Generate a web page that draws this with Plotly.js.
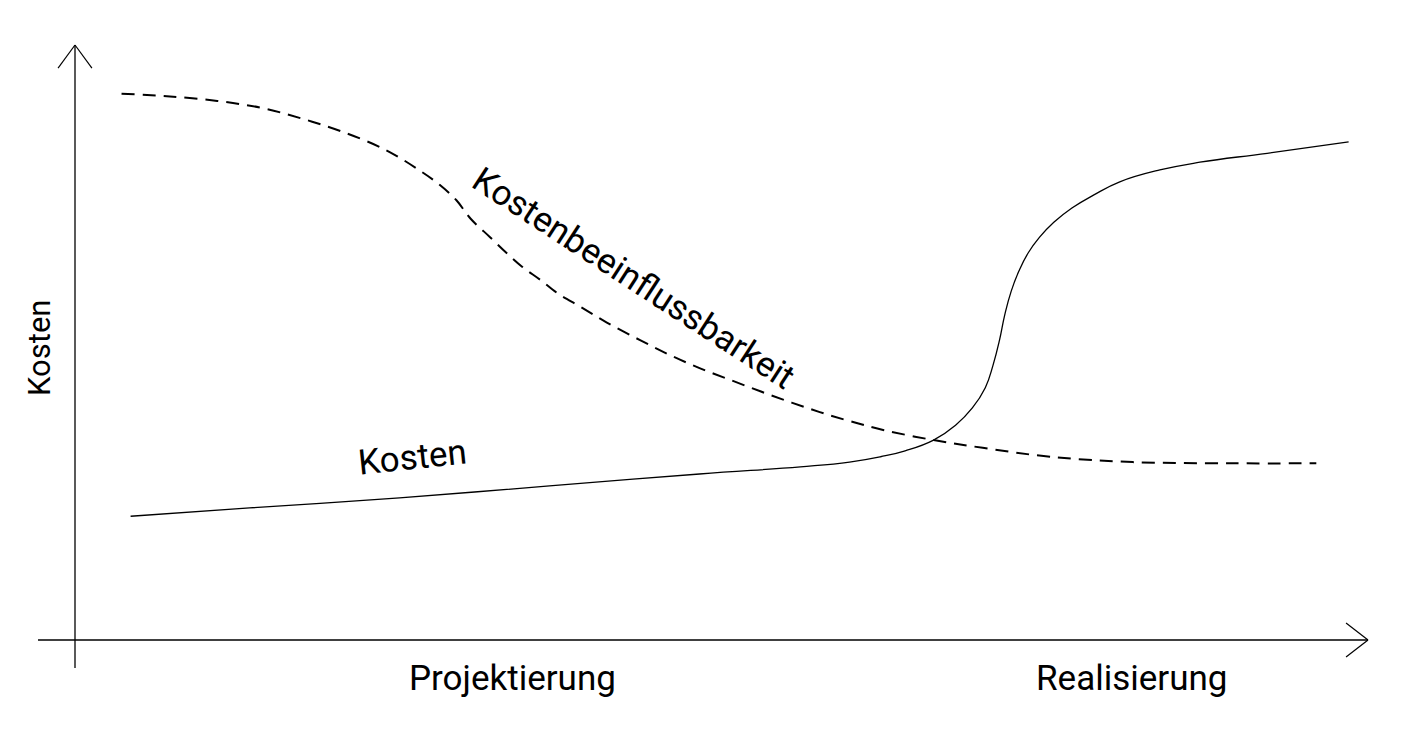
<!DOCTYPE html>
<html>
<head>
<meta charset="utf-8">
<script src="https://cdn.plot.ly/plotly-3.0.1.min.js"></script>
<style>html,body{margin:0;padding:0;background:#fff;}#chart{width:1401px;height:741px;}</style>
</head>
<body>
<div id="chart"></div>
<script>
// Phase axis (0..100) and cost axis (0..100)
const influenceX = [3.6,7.1,11.0,14.5,17.6,20.7,24.0,26.8,28.2,29.5,30.6,32.1,33.4,34.6,36.0,37.3,39.1,41.1,43.7,46.0,48.3,50.7,53.0,55.3,57.6,59.9,62.5,66.4,70.2,75.4,81.8,89.6,96.0];
const influenceY = [91.8,91.4,90.6,89.4,87.6,85.4,82.4,78.7,76.5,73.9,70.8,67.7,65.0,62.7,60.5,58.3,56.0,53.4,50.4,47.9,45.7,43.7,41.8,40.0,38.3,36.8,35.3,33.6,32.3,30.8,29.9,29.7,29.7];

const costX = [4.3,13.5,25.1,36.7,48.3,56.1,59.9,62.3,64.2,66.4,68.1,69.4,70.4,71.0,71.5,71.9,72.4,73.0,73.7,74.6,75.7,77.1,78.8,80.8,83.9,87.0,92.2,98.5];
const costY = [20.8,22.2,23.9,25.9,27.9,29.1,29.9,30.8,31.8,33.6,36.1,39.0,42.4,46.2,50.4,54.6,58.6,62.0,65.0,67.7,70.2,72.6,74.8,77.0,79.0,80.3,81.8,83.7];

const phaseLabels = ["Projektierung", "Realisierung"];
const phaseLabelX = [33.8, 81.7];
const yTitle = "Kosten";
const curveLabels = ["Kostenbeeinflussbarkeit", "Kosten"];

const FONT = "Roboto, 'Open Sans', sans-serif";

const traces = [
  {x: influenceX, y: influenceY, mode: "lines", type: "scatter",
   line: {color: "#000", width: 2, dash: "13px,8px", shape: "spline", smoothing: 1},
   hoverinfo: "skip", showlegend: false},
  {x: costX, y: costY, mode: "lines", type: "scatter",
   line: {color: "#000", width: 1.3, shape: "spline", smoothing: 1.3},
   hoverinfo: "skip", showlegend: false}
];

const ln = (x0, y0, x1, y1, w) => ({type: "line", xref: "x", yref: "y", x0, y0, x1, y1,
  line: {color: "#000", width: w}});

const shapes = [
  ln(-2.86, 0, 100, 0, 1.5),       // x axis
  ln(0, -4.7, 0, 100, 1.3),        // y axis
  ln(0, 100, -1.31, 96.1, 1.2),    // top arrow
  ln(0, 100, 1.31, 96.1, 1.2),
  ln(100, 0, 98.3, 2.86, 1.2),     // right arrow
  ln(100, 0, 98.3, -2.86, 1.2)
];

const annotations = [
  {x: phaseLabelX[0], y: -6.4, text: phaseLabels[0]},
  {x: phaseLabelX[1], y: -6.4, text: phaseLabels[1]},
  {x: -2.7, y: 49.1, text: yTitle, textangle: -90, font: {family: FONT, size: 31, color: "#000"}},
  {x: 43.2, y: 60.8, text: curveLabels[0], textangle: 33},
  {x: 26.1, y: 30.6, text: curveLabels[1], textangle: -6}
].map(a => Object.assign({xref: "x", yref: "y", showarrow: false,
  font: {family: FONT, size: 35, color: "#000"}}, a));

const layout = {
  width: 1401, height: 741,
  margin: {l: 0, r: 0, t: 0, b: 0},
  paper_bgcolor: "#fff", plot_bgcolor: "#fff",
  xaxis: {range: [-5.80, 102.55], visible: false, fixedrange: true},
  yaxis: {range: [-16.97, 107.56], visible: false, fixedrange: true},
  shapes, annotations, showlegend: false
};

Plotly.newPlot("chart", traces, layout, {staticPlot: true, displayModeBar: false});
</script>
</body>
</html>
